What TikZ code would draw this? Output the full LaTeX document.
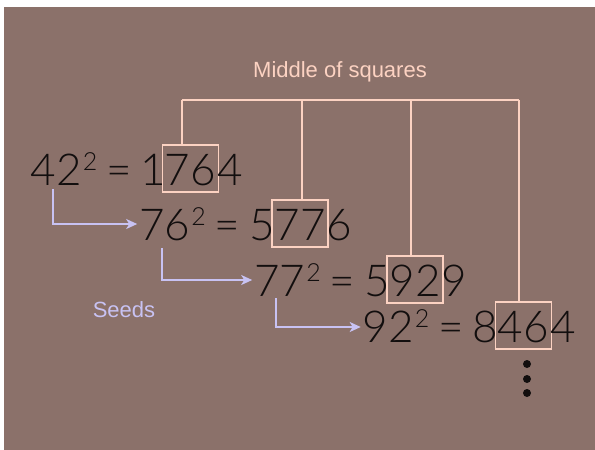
\documentclass[tikz,border=0pt]{standalone}
\usepackage{fontspec}
\setmainfont{Liberation Sans}
\IfFontExistsTF{Lato Light}{\newfontfamily\bigf{Lato Light}}{%
 \IfFontExistsTF{Open Sans Light}{\newfontfamily\bigf{Open Sans Light}}{%
  \IfFontExistsTF{Fira Sans Light}{\newfontfamily\bigf{Fira Sans Light}}{%
   \IfFontExistsTF{DejaVu Sans ExtraLight}{\newfontfamily\bigf{DejaVu Sans ExtraLight}}{%
    \newfontfamily\bigf{Fira Sans}}}}}
\usetikzlibrary{arrows.meta}
\definecolor{bg}{RGB}{139,113,106}
\definecolor{pinkl}{RGB}{252,210,194}
\definecolor{lav}{RGB}{200,194,243}
\definecolor{ink}{RGB}{18,14,14}
\newcommand\twosup{{\fontsize{25pt}{25pt}\selectfont\kern1pt\raisebox{14.5pt}{2}}}
\newcommand\eqsign{\hspace{9pt}=\hspace{9pt}}
\begin{document}
\begin{tikzpicture}[x=1pt,y=-1pt,
  eq/.style={inner sep=0pt, font=\bigf\fontsize{44pt}{44pt}\selectfont, text=ink},
  sqbox/.style={draw=pinkl, line width=1.6pt, inner xsep=2.5pt, inner ysep=0pt,
    text height=40pt, text depth=7pt, font=\bigf\fontsize{44pt}{44pt}\selectfont, text=ink, anchor=base},
  link/.style={draw=pinkl, line width=1.8pt},
  seed/.style={draw=lav, line width=1.8pt, -{Stealth[length=11pt,width=10pt,inset=3pt]}},
  lbl/.style={font=\fontsize{22pt}{22pt}\selectfont},
  dot/.style={circle, fill=ink, minimum size=8pt, inner sep=0pt}
]
\fill[white] (0,0) rectangle (595,450);
\fill[bg] (4,7) rectangle (595,450);
\useasboundingbox (0,0) rectangle (595,450);

% boxes of middle digits
\node[sqbox] (b1) at (190.5,185) {76};
\node[sqbox] (b2) at (300,240) {77};
\node[sqbox] (b3) at (415,296) {92};
\node[sqbox] (b4) at (523.5,342) {46};

% equations
\node[eq, anchor=base east] (p1) at ([xshift=5pt]b1.base west) {42\twosup\eqsign 1};
\node[eq, anchor=base west] (q1) at ([xshift=-2.5pt]b1.base east) {4};
\node[eq, anchor=base east] (p2) at ([xshift=4pt]b2.base west) {76\twosup\eqsign 5};
\node[eq, anchor=base west] (q2) at ([xshift=-2.5pt]b2.base east) {6};
\node[eq, anchor=base east] (p3) at ([xshift=4pt]b3.base west) {77\twosup\eqsign 5};
\node[eq, anchor=base west] (q3) at ([xshift=-2.5pt]b3.base east) {9};
\node[eq, anchor=base east] (p4) at ([xshift=4pt]b4.base west) {92\twosup\eqsign 8};
\node[eq, anchor=base west] (q4) at ([xshift=-2.5pt]b4.base east) {4};

% bracket
\node[lbl, text=pinkl] (mid) at (340,72) {Middle of squares};
\coordinate (t1) at (182,100);
\coordinate (t2) at (302,100);
\coordinate (t3) at (411,100);
\coordinate (t4) at (519,100);
\draw[link] (t1) -- (t4);
\draw[link] (t1) -- (t1 |- b1.north);
\draw[link] (t2) -- (t2 |- b2.north);
\draw[link] (t3) -- (t3 |- b3.north);
\draw[link] (t4) -- (t4 |- b4.north);

% seeds
\coordinate (s1) at ([xshift=22pt,yshift=-4pt]p1.base west);
\coordinate (s2) at ([xshift=23pt,yshift=-8pt]p2.base west);
\coordinate (s3) at ([xshift=22pt,yshift=-2pt]p3.base west);
\draw[seed] (s1) |- ([xshift=-2pt]p2.west |- 0,224);
\draw[seed] (s2) |- ([xshift=-2pt]p3.west |- 0,280);
\draw[seed] (s3) |- ([xshift=-2pt]p4.west |- 0,327);
\node[lbl, text=lav] (seeds) at (124,310) {Seeds};

% continuation dots
\node[dot] (d1) at (527,364) {};
\node[dot] (d2) at (527,379) {};
\node[dot] (d3) at (527,393) {};
\end{tikzpicture}
\end{document}
